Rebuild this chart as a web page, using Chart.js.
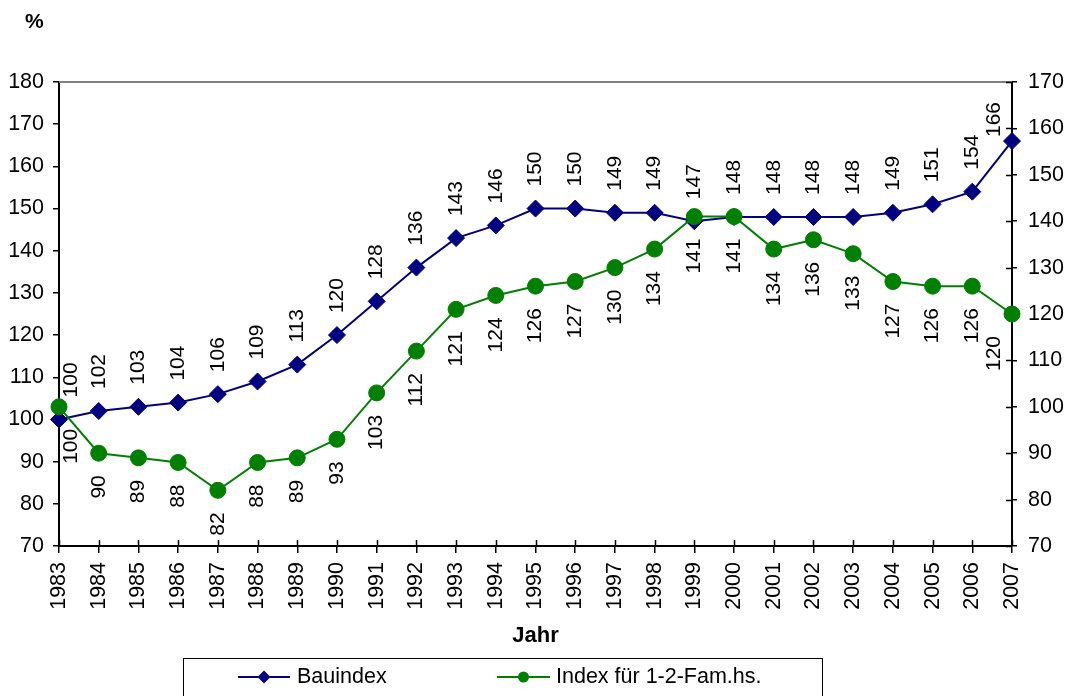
<!DOCTYPE html>
<html>
<head>
<meta charset="utf-8">
<script src="https://cdn.jsdelivr.net/npm/chart.js@4.4.1/dist/chart.umd.min.js"></script>
<style>
  html, body { margin: 0; padding: 0; background: #fff; }
  #wrap { width: 1074px; height: 696px; }
</style>
</head>
<body>
<div id="wrap"><canvas id="c" width="1074" height="696"></canvas></div>
<script>
// Jahre und Indexwerte (1983 = 100)
const years = ['1983','1984','1985','1986','1987','1988','1989','1990','1991','1992','1993','1994','1995',
               '1996','1997','1998','1999','2000','2001','2002','2003','2004','2005','2006','2007'];
const bauindex = [100,102,103,104,106,109,113,120,128,136,143,146,150,150,149,149,147,148,148,148,148,149,151,154,166];
const famHausIndex = [100,90,89,88,82,88,89,93,103,112,121,124,126,127,130,134,141,141,134,136,133,127,126,126,120];

// Achsenbeschriftungen links (Bauindex) und rechts (1-2-Fam.hs.)
const leftTicks = [70,80,90,100,110,120,130,140,150,160,170,180];
const rightTicks = [70,80,90,100,110,120,130,140,150,160,170];

const FONT = '"Liberation Sans", Arial, Helvetica, sans-serif';
const BLUE = '#000080';
const GREEN = '#008000';
Chart.defaults.font.family = FONT;
Chart.defaults.color = '#000';

// Rahmen oben, innere Teilstriche, Überschrift "%"
const frame = {
  id: 'frame',
  beforeDatasetsDraw(chart) {
    const { ctx, chartArea: a, scales } = chart;
    ctx.save();
    ctx.strokeStyle = '#808080';
    ctx.lineWidth = 2;
    ctx.beginPath();
    ctx.moveTo(a.left, a.top);
    ctx.lineTo(a.right, a.top);
    ctx.stroke();
    ctx.strokeStyle = '#000';
    ctx.lineWidth = 1.5;
    ctx.beginPath();
    scales.x.ticks.forEach((t, i) => {
      const px = Math.round(scales.x.getPixelForTick(i)) + 0.5;
      ctx.moveTo(px, a.bottom);
      ctx.lineTo(px, a.bottom - 6);
    });
    scales.y2.ticks.forEach((t, i) => {
      const py = Math.round(scales.y2.getPixelForTick(i)) + 0.5;
      ctx.moveTo(a.right, py);
      ctx.lineTo(a.right - 6, py);
    });
    ctx.stroke();
    ctx.restore();
  },
  afterDraw(chart) {
    const { ctx } = chart;
    ctx.save();
    ctx.font = 'bold 21px ' + FONT;
    ctx.fillStyle = '#000';
    ctx.textAlign = 'left';
    ctx.textBaseline = 'middle';
    ctx.fillText('%', 25, 22);
    ctx.restore();
  }
};

// Senkrechte Wertbeschriftungen über bzw. unter den Punkten
const valueLabels = {
  id: 'valueLabels',
  afterDatasetsDraw(chart) {
    const { ctx, chartArea: a } = chart;
    const gap = 22;
    chart.data.datasets.forEach((ds, i) => {
      const meta = chart.getDatasetMeta(i);
      const up = ds.labelSide === 'above';
      meta.data.forEach((pt, j) => {
        const text = String(ds.data[j]);
        ctx.save();
        ctx.font = '21px ' + FONT;
        const w = ctx.measureText(text).width;
        const x = Math.min(Math.max(pt.x, a.left + 12), a.right - 18);
        let start = up ? pt.y - gap : pt.y + gap;
        if (up && start - w < a.top + 20) start = a.top + 20 + w;
        ctx.translate(x, start);
        ctx.rotate(-Math.PI / 2);
        ctx.textAlign = up ? 'left' : 'right';
        ctx.textBaseline = 'middle';
        ctx.fillStyle = '#000';
        ctx.fillText(text, 0, 0);
        ctx.restore();
      });
    });
  }
};

// Legende im Kasten unter der Grafik
const legendBox = {
  id: 'legendBox',
  afterDraw(chart) {
    const { ctx } = chart;
    ctx.save();
    ctx.strokeStyle = '#000';
    ctx.lineWidth = 1;
    ctx.strokeRect(183.5, 658.5, 639, 50);
    const cy = 677;
    const entries = [
      { ds: chart.data.datasets[0], x0: 238, x1: 290, tx: 297 },
      { ds: chart.data.datasets[1], x0: 497, x1: 550, tx: 556 }
    ];
    entries.forEach(e => {
      ctx.strokeStyle = e.ds.borderColor;
      ctx.lineWidth = 2;
      ctx.beginPath();
      ctx.moveTo(e.x0, cy);
      ctx.lineTo(e.x1, cy);
      ctx.stroke();
      const mx = (e.x0 + e.x1) / 2;
      ctx.fillStyle = e.ds.pointBackgroundColor;
      ctx.beginPath();
      if (e.ds.pointStyle === 'rectRot') {
        const r = 6.5;
        ctx.moveTo(mx - r, cy);
        ctx.lineTo(mx, cy - r);
        ctx.lineTo(mx + r, cy);
        ctx.lineTo(mx, cy + r);
        ctx.closePath();
      } else {
        ctx.arc(mx, cy, 5.5, 0, Math.PI * 2);
      }
      ctx.fill();
      ctx.fillStyle = '#000';
      ctx.font = '21.5px ' + FONT;
      ctx.textAlign = 'left';
      ctx.textBaseline = 'middle';
      ctx.fillText(e.ds.label, e.tx, cy);
    });
    ctx.restore();
  }
};

const tickFont = { size: 21.5 };

new Chart(document.getElementById('c'), {
  type: 'line',
  data: {
    labels: years,
    datasets: [
      {
        label: 'Bauindex',
        data: bauindex,
        yAxisID: 'y',
        order: 1,
        labelSide: 'above',
        borderColor: BLUE,
        backgroundColor: BLUE,
        borderWidth: 2,
        pointStyle: 'rectRot',
        pointRadius: 8.5,
        pointBorderWidth: 1,
        pointBorderColor: BLUE,
        pointBackgroundColor: BLUE,
        tension: 0,
        clip: false
      },
      {
        label: 'Index für 1-2-Fam.hs.',
        data: famHausIndex,
        yAxisID: 'y2',
        order: 0,
        labelSide: 'below',
        borderColor: GREEN,
        backgroundColor: GREEN,
        borderWidth: 2,
        pointStyle: 'circle',
        pointRadius: 8,
        pointBorderWidth: 1,
        pointBorderColor: GREEN,
        pointBackgroundColor: GREEN,
        tension: 0,
        clip: false
      }
    ]
  },
  options: {
    responsive: false,
    animation: false,
    devicePixelRatio: 1,
    layout: { padding: { left: 0, right: 0, top: 82, bottom: 47 } },
    plugins: { legend: { display: false }, tooltip: { enabled: false } },
    scales: {
      x: {
        type: 'category',
        offset: false,
        grid: { drawOnChartArea: false, tickLength: 7, color: '#000', lineWidth: 1.5 },
        border: { color: '#000', width: 2 },
        ticks: { minRotation: 90, maxRotation: 90, autoSkip: false, padding: 9, font: tickFont, color: '#000' },
        title: { display: true, text: 'Jahr', font: { size: 22, weight: 'bold' }, color: '#000', padding: 0 },
        afterFit(s) { s.height = 103; }
      },
      y: {
        position: 'left',
        min: leftTicks[0],
        max: leftTicks[leftTicks.length - 1],
        grid: { drawOnChartArea: false, tickLength: 6, color: '#000', lineWidth: 1.5 },
        border: { color: '#000', width: 2 },
        ticks: { stepSize: leftTicks[1] - leftTicks[0], padding: 9, font: tickFont, color: '#000' },
        afterFit(s) { s.width = 59; }
      },
      y2: {
        position: 'right',
        min: rightTicks[0],
        max: rightTicks[rightTicks.length - 1],
        grid: { drawOnChartArea: false, tickLength: 5, color: '#000', lineWidth: 1.5 },
        border: { color: '#000', width: 2 },
        ticks: { stepSize: rightTicks[1] - rightTicks[0], padding: 11, font: tickFont, color: '#000' },
        afterFit(s) { s.width = 62; }
      }
    }
  },
  plugins: [frame, valueLabels, legendBox]
});
</script>
</body>
</html>
